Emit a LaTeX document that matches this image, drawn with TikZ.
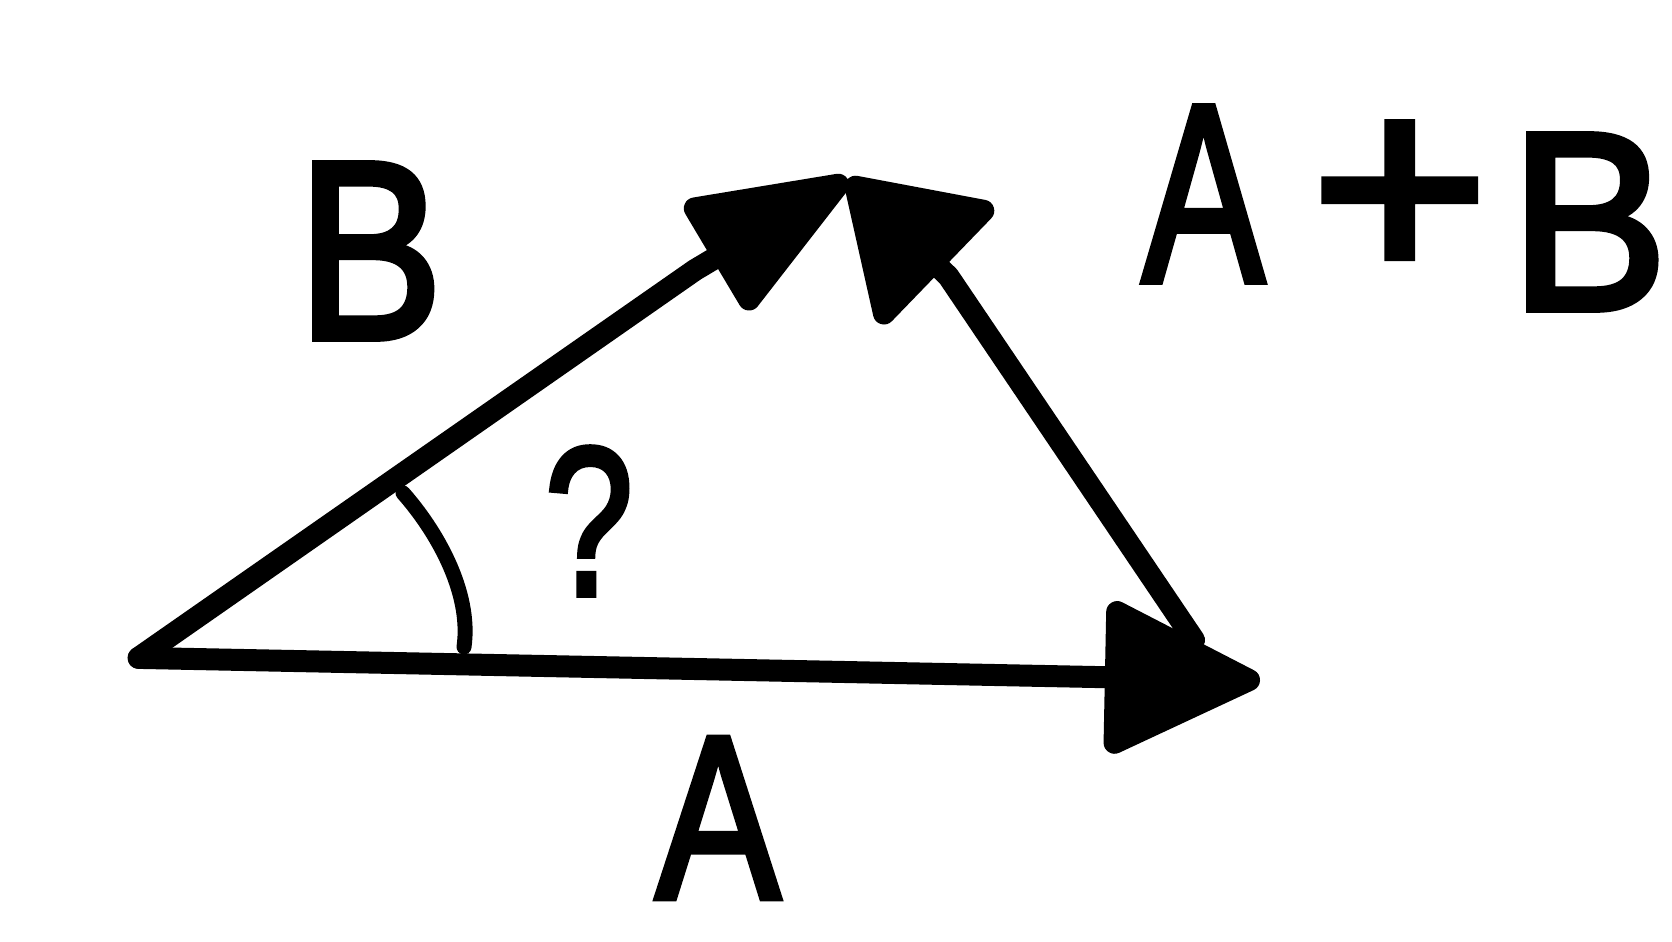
\documentclass[tikz,border=0pt]{standalone}
\usepackage{fontspec}
\usepackage{graphicx}
\setmainfont{Liberation Sans}
\newfontfamily\handfont{Liberation Sans}[FakeBold=3]
\usetikzlibrary{arrows.meta}
\newcommand{\narrow}[2][0.8]{\scalebox{#1}[1]{#2}}
\begin{document}
\begin{tikzpicture}[
  vecline/.style={line width=0.22cm, line cap=round, line join=round},
  lbl/.style={font=\handfont\fontsize{72}{76}\selectfont, inner sep=4pt},
  arcline/.style={line width=0.15cm, line cap=round}
]
\useasboundingbox (0,0) rectangle (16.72,9.41);
\fill[white] (0,0) rectangle (16.72,9.41);
\coordinate (O) at (1.386,2.831);
\coordinate (Atip) at (12.60,2.607);
\coordinate (Btip) at (8.477,7.619);
\coordinate (Bbend) at (6.95,6.71);
\coordinate (Cstart) at (11.94,3.01);
\coordinate (Cbend) at (9.484,6.646);
\coordinate (arcS) at (4.03,4.48);
\coordinate (arcC1) at (4.35,4.12);
\coordinate (arcC2) at (4.72,3.50);
\coordinate (arcE) at (4.64,2.94);
\draw[vecline, -{Triangle[length=1.7cm,width=1.6cm,round]}] (O) -- (Atip);
\draw[vecline, -{Triangle[length=1.78cm,width=1.32cm,round]}] (O) -- (Bbend) -- (Btip);
\draw[vecline, -{Triangle[length=1.4cm,width=1.78cm,round]}] (Cstart) -- (Cbend) -- (Btip);
\draw[arcline] (arcS) .. controls (arcC1) and (arcC2) .. (arcE);
\node[lbl] (lB) at (3.70,6.90) {\narrow[0.86]{B}};
\node[lbl] (lApB) at (14.05,7.33) {\narrow[0.72]{A}\hspace{0.47cm}\scalebox{1.2}[1.08]{+}\hspace{0.22cm}\raisebox{-0.28cm}{\narrow[0.93]{B}}};
\node[lbl, font=\handfont\fontsize{60}{64}\selectfont] (lQ) at (5.89,4.20) {\narrow[0.75]{?}};
\node[lbl, font=\handfont\fontsize{66}{70}\selectfont] (lA) at (7.18,1.23) {\narrow[0.8]{A}};
\end{tikzpicture}
\end{document}
